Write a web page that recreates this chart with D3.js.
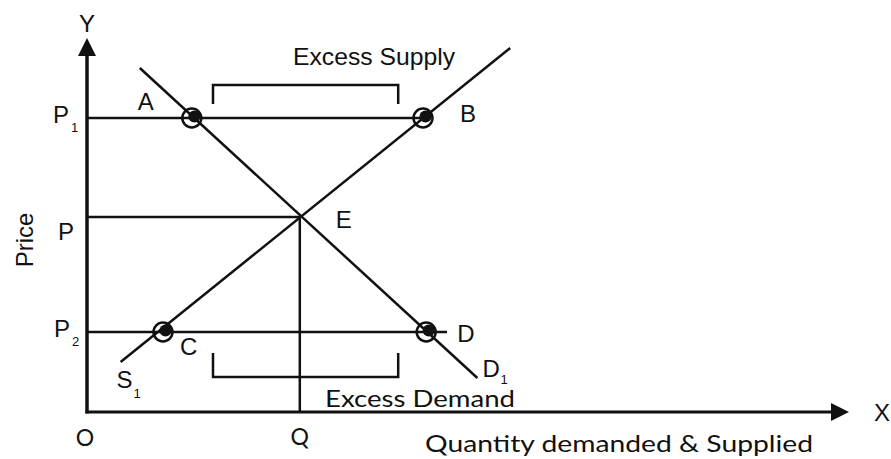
<!DOCTYPE html>
<html>
<head>
<meta charset="utf-8">
<script src="https://cdn.jsdelivr.net/npm/d3@7"></script>
<style>
  body { margin: 0; background: #fff; }
  text { fill: #111; }
</style>
</head>
<body>
<div id="chart"></div>
<script>
// quantity / price values (0-100 units on both axes)
var demandLine = [{ q: 6.6, p: 86 }, { q: 48.8, p: 8.5 }];
var supplyLine = [{ q: 4.2, p: 12.5 }, { q: 52.9, p: 91 }];

var priceNames = ["P1", "P", "P2"];
var priceValues = [73.5, 48.75, 20];
var priceLineEnds = [42.4, 26.6, 45]; // quantity where each horizontal guide stops

var eqQuantity = 26.6;

var pointNames = ["A", "B", "C", "D"];
var pointQ = [13.1, 42, 9.5, 42.4];
var pointP = [73.5, 73.5, 20, 20];

var bracketNames = ["Excess Supply", "Excess Demand"];
var bracketFrom = [15.75, 15.75];
var bracketTo = [38.9, 38.9];
var bracketLine = [81.75, 8.75];
var bracketTip = [77, 14.75];

var width = 891;
var height = 459;

var svg = d3
	.select("#chart")
	.append("svg")
	.attr("width", width)
	.attr("height", height);

var x = d3.scaleLinear().domain([0, 100]).range([87, 887]);
var y = d3.scaleLinear().domain([0, 100]).range([412, 12]);

var ink = "#111";
var font = "'Liberation Sans', Arial, sans-serif";

// horizontal price guides
svg.append("g")
	.selectAll("line")
	.data(priceValues)
	.enter()
	.append("line")
	.attr("x1", x(0))
	.attr("x2", (d, i) => x(priceLineEnds[i]))
	.attr("y1", d => y(d))
	.attr("y2", d => y(d))
	.attr("stroke", ink)
	.attr("stroke-width", 2.5);

// vertical guide at equilibrium quantity
svg.append("line")
	.attr("x1", x(eqQuantity))
	.attr("x2", x(eqQuantity))
	.attr("y1", y(0))
	.attr("y2", y(priceValues[1]))
	.attr("stroke", ink)
	.attr("stroke-width", 2.5);

// demand and supply curves
var line = d3.line().x(d => x(d.q)).y(d => y(d.p));
svg.append("g")
	.selectAll("path")
	.data([demandLine, supplyLine])
	.enter()
	.append("path")
	.attr("d", line)
	.attr("fill", "none")
	.attr("stroke", ink)
	.attr("stroke-width", 2.5);

// axes with arrow heads
svg.append("line")
	.attr("x1", x(0)).attr("y1", y(0) + 1.5)
	.attr("x2", x(0)).attr("y2", 50)
	.attr("stroke", ink).attr("stroke-width", 3.5);
svg.append("line")
	.attr("x1", x(0) - 1.5).attr("y1", y(0))
	.attr("x2", 836).attr("y2", y(0))
	.attr("stroke", ink).attr("stroke-width", 3);
svg.append("path")
	.attr("d", d3.line()([[x(0), 38], [x(0) - 9, 56], [x(0) + 9, 56]]))
	.attr("fill", ink);
svg.append("path")
	.attr("d", d3.line()([[849, y(0)], [831, y(0) - 9], [831, y(0) + 9]]))
	.attr("fill", ink);

// brackets
svg.append("g")
	.selectAll("path")
	.data(bracketNames)
	.enter()
	.append("path")
	.attr("d", (d, i) => d3.line()([
		[x(bracketFrom[i]), y(bracketTip[i])],
		[x(bracketFrom[i]), y(bracketLine[i])],
		[x(bracketTo[i]), y(bracketLine[i])],
		[x(bracketTo[i]), y(bracketTip[i])]
	]))
	.attr("fill", "none")
	.attr("stroke", ink)
	.attr("stroke-width", 2.5);

// marked points: ring with a solid dot
var pts = svg.append("g")
	.selectAll("g")
	.data(pointNames)
	.enter()
	.append("g")
	.attr("transform", (d, i) => "translate(" + x(pointQ[i]) + "," + y(pointP[i]) + ")");
pts.append("circle")
	.attr("r", 9.5)
	.attr("fill", "none")
	.attr("stroke", ink)
	.attr("stroke-width", 2.5);
pts.append("circle")
	.attr("cx", 2.5)
	.attr("cy", -1.5)
	.attr("r", 6)
	.attr("fill", ink);

// text labels
function label(txt, px, py, size, opts) {
	opts = opts || {};
	var t = svg.append("text")
		.attr("x", px)
		.attr("y", py)
		.attr("font-family", opts.family || font)
		.attr("font-size", size)
		.attr("text-anchor", opts.anchor || "start")
		.text(txt);
	if (opts.len) t.attr("textLength", opts.len).attr("lengthAdjust", "spacingAndGlyphs");
	return t;
}

var round = "'URW Gothic', 'Century Gothic', 'Lato', 'Liberation Sans', sans-serif";

label("Y", x(0), 32, 24, { anchor: "middle" });
label("X", 874, 421, 24);
label("O", x(0) - 2, 446, 23, { anchor: "middle", family: round });
label("Q", x(eqQuantity), 445, 23, { anchor: "middle", family: round });

// price labels with subscripts
var priceLabelX = [53, 58, 54];
priceNames.forEach(function (n, i) {
	label("P", priceLabelX[i], y(priceValues[i]) + (i == 1 ? 23 : 5), 24);
	if (n.length > 1) label(n.slice(1), priceLabelX[i] + 18, y(priceValues[i]) + 14, 13);
});

label("A", x(pointQ[0]) - 54, y(pointP[0]) - 8, 24);
label("B", x(pointQ[1]) + 37, y(pointP[1]) + 4, 24);
label("C", x(pointQ[2]) + 17, y(pointP[2]) + 23, 24);
label("D", x(pointQ[3]) + 31, y(pointP[3]) + 10, 24);
label("E", x(eqQuantity) + 36, y(priceValues[1]) + 11, 24);

// curve end labels
var dEnd = demandLine[1], sEnd = supplyLine[0];
label("D", x(dEnd.q) + 5, y(dEnd.p) - 1, 24);
label("1", x(dEnd.q) + 23, y(dEnd.p) + 6, 13);
label("S", x(sEnd.q) - 4, y(sEnd.p) + 26, 24);
label("1", x(sEnd.q) + 13, y(sEnd.p) + 36, 13);

// bracket captions
label(bracketNames[0], 293, 65, 24, { len: 162 });
label(bracketNames[1], 325, 407, 24, { len: 190, family: round });

// axis titles
label("Quantity demanded & Supplied", 425, 452, 24, { len: 388, family: round });
label("Price", 0, 0, 24, { anchor: "middle" })
	.attr("transform", "translate(33,240) rotate(-90)");
</script>
</body>
</html>
